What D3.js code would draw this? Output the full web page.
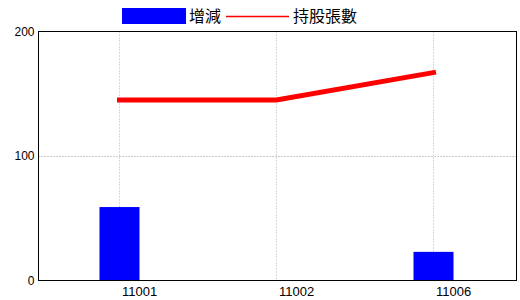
<!DOCTYPE html>
<html>
  <head>
    <script src="https://d3js.org/d3.v7.min.js"></script>
    <style>
      body { margin: 0; background: #fff; }
      .axis text { font-family: "Liberation Sans", Arial, sans-serif; font-size: 12px; fill: #000; }
      .legend text { font-family: "Noto Sans CJK TC", sans-serif; font-size: 16px; fill: #000; }
    </style>
  </head>
  <body>
    <svg width="520" height="300"></svg>
    <script>
      const categories = ["11001", "11002", "11006"];
      const changeValues = [59, 0, 23];
      const shareValues = [145, 145, 167];
      const yTicks = [0, 100, 200];

      const svg = d3.select("svg");
      const plotLeft = 38.5, plotRight = 516.5, plotTop = 31.5, plotBottom = 280.5;

      const x = d3.scalePoint()
        .domain(categories)
        .range([119.5, 433.5]);
      const y = d3.scaleLinear()
        .domain([0, 200])
        .range([plotBottom, plotTop]);

      // grid
      svg.append("g")
        .selectAll("line")
        .data(categories)
        .enter().append("line")
          .attr("x1", d => x(d)).attr("x2", d => x(d))
          .attr("y1", plotTop).attr("y2", plotBottom)
          .attr("stroke", "#a8b4c4")
          .attr("stroke-dasharray", "1,2");
      svg.append("g")
        .selectAll("line")
        .data(yTicks.filter(d => d > 0 && d < 200))
        .enter().append("line")
          .attr("x1", plotLeft).attr("x2", plotRight)
          .attr("y1", d => Math.round(y(d)) + 0.5).attr("y2", d => Math.round(y(d)) + 0.5)
          .attr("stroke", "#999")
          .attr("stroke-dasharray", "1,2");

      // bars
      const barWidth = 40;
      svg.append("g")
        .selectAll("rect")
        .data(categories.map((c, i) => ({c: c, v: changeValues[i]})))
        .enter().append("rect")
          .attr("x", d => x(d.c) - barWidth / 2)
          .attr("y", d => y(d.v))
          .attr("width", barWidth)
          .attr("height", d => plotBottom - y(d.v))
          .attr("fill", "#0000ff");

      // line
      const line = d3.line()
        .x((d, i) => x(categories[i]))
        .y(d => y(d));
      svg.append("path")
        .datum(shareValues)
        .attr("d", line)
        .attr("fill", "none")
        .attr("stroke", "#ff0000")
        .attr("stroke-width", 5)
        .attr("stroke-linecap", "square");

      // frame
      svg.append("rect")
        .attr("x", plotLeft).attr("y", plotTop)
        .attr("width", plotRight - plotLeft).attr("height", plotBottom - plotTop)
        .attr("fill", "none")
        .attr("stroke", "#000");

      // axes
      const yAxis = svg.append("g")
        .attr("class", "axis")
        .attr("transform", `translate(${plotLeft},0)`)
        .call(d3.axisLeft(y).tickValues(yTicks).tickSize(0).tickPadding(4));
      yAxis.select(".domain").remove();

      const xAxis = svg.append("g")
        .attr("class", "axis")
        .attr("transform", `translate(0,${plotBottom})`)
        .call(d3.axisBottom(x).tickSize(0).tickPadding(6));
      xAxis.select(".domain").remove();
      xAxis.selectAll("text")
        .attr("text-anchor", "start")
        .attr("dx", 2)
        .style("font-size", "13px");

      // legend
      const legend = svg.append("g").attr("class", "legend");
      legend.append("rect")
        .attr("x", 122).attr("y", 8)
        .attr("width", 64).attr("height", 16)
        .attr("fill", "#0000ff");
      legend.append("text")
        .attr("x", 189).attr("y", 22)
        .text("增減");
      legend.append("line")
        .attr("x1", 226).attr("x2", 289)
        .attr("y1", 16.5).attr("y2", 16.5)
        .attr("stroke", "#ff0000")
        .attr("stroke-width", 1.5);
      legend.append("text")
        .attr("x", 293).attr("y", 22)
        .text("持股張數");
    </script>
  </body>
</html>
